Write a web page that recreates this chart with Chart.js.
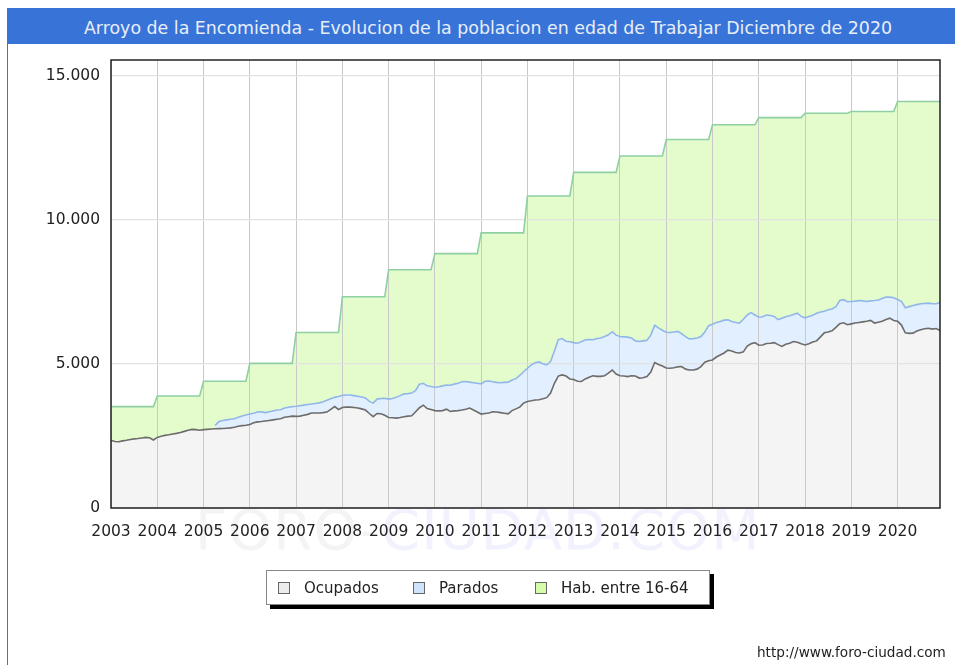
<!DOCTYPE html>
<html>
<head>
<meta charset="utf-8">
<script src="https://cdn.jsdelivr.net/npm/chart.js@4.4.1/dist/chart.umd.min.js"></script>
<style>
  html, body { margin: 0; padding: 0; background: #fff; }
  body { width: 955px; height: 665px; position: relative; overflow: hidden; font-family: "DejaVu Sans", sans-serif; }
  #titleBar {
    position: absolute; left: 7px; top: 8px; width: 948px; height: 36px; box-sizing: border-box; padding-left: 14px;
    background: #3874d8; color: #e8eef9; font-size: 17.4px; line-height: 40px; text-align: center; overflow: hidden; white-space: nowrap;
  }
  #sideLine { position: absolute; left: 7px; top: 44px; width: 1px; height: 621px; background: #3874d8; }
  #watermark {
    position: absolute; left: 195px; top: 497px; font-size: 56px; letter-spacing: 1px; white-space: nowrap; z-index: 0;
  }
  #watermark .a { color: #f4f4f4; }
  #watermark .b { color: #f1f2fd; }
  #chartWrap { position: absolute; left: 0; top: 0; width: 955px; height: 665px; z-index: 1; }
  #legendBox {
    position: absolute; left: 266px; top: 570px; width: 442px; height: 33px; z-index: 2;
    background: #fff; border: 1px solid #888; box-shadow: 4px 4px 0 #000;
    font-size: 15px; color: #222; line-height: 34px; white-space: nowrap;
  }
  .item { position: absolute; top: 0; }
  .sw { display: inline-block; width: 10px; height: 10px; border: 1px solid #666; vertical-align: -1px; margin-right: 14px; }
  #footer { position: absolute; left: 757px; top: 644px; font-size: 13.6px; color: #222; z-index: 2; }
</style>
</head>
<body>
<div id="titleBar">Arroyo de la Encomienda - Evolucion de la poblacion en edad de Trabajar Diciembre de 2020</div>
<div id="sideLine"></div>
<div id="watermark"><span class="a">FORO-</span><span class="b">CIUDAD.COM</span></div>
<div id="chartWrap"><canvas id="chart" width="955" height="665"></canvas></div>
<div id="legendBox">
  <span class="item" style="left:11px"><span class="sw" style="background:#ececec"></span>Ocupados</span>
  <span class="item" style="left:146px"><span class="sw" style="background:#cfe4fa"></span>Parados</span>
  <span class="item" style="left:268px"><span class="sw" style="background:#d6fbab"></span>Hab. entre 16-64</span>
</div>
<div id="footer">http://www.foro-ciudad.com</div>
<script>
const YEARS = ["2003", "2004", "2005", "2006", "2007", "2008", "2009", "2010", "2011",
  "2012", "2013", "2014", "2015", "2016", "2017", "2018", "2019", "2020"];

const Y_TICKS = [0, 5000, 10000, 15000];

// Hab. entre 16-64, one value per year (step series)
const HAB_16_64 = [3520, 3890, 4400, 5020, 6090, 7330, 8270, 8830, 9550,
  10830, 11650, 12220, 12790, 13300, 13550, 13700, 13760, 14110];

// monthly, Jan 2003 .. Dec 2020
const OCUPADOS = [
  2350, 2310, 2300, 2330, 2350, 2380, 2400, 2410, 2430, 2450, 2440, 2360, // 2003
  2450, 2490, 2520, 2540, 2570, 2590, 2620, 2660, 2700, 2730, 2720, 2700, // 2004
  2720, 2730, 2740, 2750, 2755, 2760, 2770, 2780, 2800, 2840, 2860, 2870, // 2005
  2900, 2960, 2990, 3000, 3020, 3040, 3060, 3080, 3100, 3150, 3170, 3190, // 2006
  3180, 3190, 3220, 3250, 3300, 3300, 3300, 3310, 3330, 3420, 3520, 3420, // 2007
  3490, 3500, 3500, 3490, 3470, 3440, 3400, 3280, 3170, 3280, 3270, 3220, // 2008
  3140, 3130, 3120, 3140, 3170, 3190, 3200, 3340, 3480, 3570, 3450, 3420, // 2009
  3380, 3370, 3380, 3430, 3350, 3370, 3380, 3400, 3430, 3470, 3400, 3330, // 2010
  3260, 3280, 3300, 3340, 3330, 3310, 3290, 3270, 3380, 3440, 3500, 3640, // 2011
  3700, 3720, 3750, 3760, 3790, 3830, 3990, 4330, 4580, 4620, 4580, 4480, // 2012
  4460, 4400, 4390, 4480, 4540, 4590, 4570, 4570, 4590, 4680, 4790, 4650, // 2013
  4590, 4580, 4560, 4590, 4580, 4510, 4520, 4560, 4720, 5050, 4980, 4930, // 2014
  4860, 4850, 4870, 4900, 4910, 4820, 4790, 4790, 4820, 4910, 5060, 5110, // 2015
  5140, 5240, 5310, 5380, 5480, 5450, 5400, 5380, 5420, 5620, 5700, 5740, // 2016
  5650, 5660, 5710, 5720, 5740, 5670, 5610, 5680, 5720, 5780, 5750, 5700, // 2017
  5660, 5700, 5760, 5800, 5940, 6080, 6110, 6150, 6270, 6400, 6430, 6360, // 2018
  6390, 6420, 6440, 6460, 6480, 6510, 6420, 6450, 6480, 6540, 6590, 6510, // 2019
  6480, 6350, 6080, 6060, 6070, 6140, 6190, 6220, 6240, 6210, 6230, 6160  // 2020
];

const PARADOS = [
  null, null, null, null, null, null, null, null, null, null, null, null, // 2003
  null, null, null, null, null, null, null, null, null, null, null, null, // 2004
  null, null, null, 120, 245, 280, 290, 300, 300, 310, 330, 360,         // 2005
  360, 330, 340, 340, 290, 300, 310, 320, 310, 320, 330, 330,             // 2006
  350, 360, 350, 340, 310, 330, 350, 380, 410, 370, 320, 450,             // 2007
  420, 420, 420, 410, 410, 410, 420, 420, 470, 500, 530, 590,             // 2008
  640, 670, 720, 760, 790, 780, 790, 740, 820, 760, 790, 800,             // 2009
  810, 840, 860, 840, 910, 930, 950, 980, 960, 900, 950, 1000,            // 2010
  1050, 1120, 1110, 1040, 1030, 1040, 1070, 1100, 1060, 1050, 1100, 1090, // 2011
  1150, 1250, 1290, 1310, 1220, 1140, 1090, 1120, 1260, 1260, 1210, 1290, // 2012
  1280, 1320, 1380, 1360, 1310, 1250, 1310, 1330, 1360, 1330, 1330, 1350, // 2013
  1360, 1360, 1370, 1310, 1220, 1270, 1280, 1260, 1280, 1290, 1270, 1240, // 2014
  1240, 1240, 1240, 1230, 1140, 1130, 1080, 1090, 1080, 1040, 1050, 1220, // 2015
  1240, 1200, 1160, 1140, 1050, 1020, 1040, 1040, 1130, 1080, 1080, 960,  // 2016
  970, 980, 990, 960, 910, 870, 980, 960, 950, 940, 1010, 950,            // 2017
  940, 950, 930, 960, 860, 750, 770, 760, 720, 800, 800, 800,             // 2018
  780, 760, 760, 730, 690, 680, 780, 770, 790, 780, 730, 790,             // 2019
  760, 820, 870, 930, 960, 920, 900, 880, 870, 880, 860, 970              // 2020
];

const FONT = '"DejaVu Sans", sans-serif';

function fmtMiles(value) {
  return String(value).replace(/\B(?=(\d{3})+(?!\d))/g, ".");
}

const labels = [];
const habMonthly = [];
YEARS.forEach((year, yi) => {
  for (let m = 0; m < 12; m++) {
    labels.push(`${year}-${m + 1}`);
    habMonthly.push(HAB_16_64[yi]);
  }
});

// parados is drawn stacked on top of ocupados
const paradosTop = OCUPADOS.map((v, i) => (PARADOS[i] == null ? null : v + PARADOS[i]));

const frame = {
  id: "frame",
  afterDraw(chart) {
    const { ctx, chartArea: a } = chart;
    ctx.save();
    ctx.strokeStyle = "#222";
    ctx.lineWidth = 1.5;
    ctx.strokeRect(a.left, a.top, a.right - a.left, a.bottom - a.top);
    ctx.restore();
  }
};

new Chart(document.getElementById("chart"), {
  type: "line",
  data: {
    labels,
    datasets: [
      {
        label: "Ocupados",
        data: OCUPADOS,
        borderColor: "#6c6c6c",
        backgroundColor: "#f4f4f4",
        borderWidth: 1.6,
        fill: "origin"
      },
      {
        label: "Parados",
        data: paradosTop,
        borderColor: "#91b7ea",
        backgroundColor: "#e2effe",
        borderWidth: 1.6,
        fill: "origin"
      },
      {
        label: "Hab. entre 16-64",
        data: habMonthly,
        borderColor: "#8fd0a2",
        backgroundColor: "#e4fccc",
        borderWidth: 1.6,
        fill: "origin"
      }
    ]
  },
  options: {
    responsive: false,
    animation: false,
    events: [],
    elements: { point: { radius: 0 }, line: { tension: 0 } },
    layout: { autoPadding: false, padding: { left: 0, right: 15, top: 60, bottom: 117 } },
    plugins: {
      legend: { display: false },
      title: { display: false },
      tooltip: { enabled: false },
      filler: { drawTime: "beforeDraw" }
    },
    scales: {
      x: {
        type: "category",
        offset: false,
        afterFit: (scale) => { scale.height = 40; },
        border: { display: false },
        grid: { drawTicks: false, lineWidth: 1, color: "#c9c9c9" },
        ticks: {
          autoSkip: false,
          maxRotation: 0,
          padding: 15,
          color: "#222",
          font: { family: FONT, size: 15.5 },
          // null hides both the label and its grid line: only January keeps one
          callback: (value, index) => (index % 12 === 0 ? YEARS[index / 12] : null)
        }
      },
      y: {
        min: 0,
        max: 15550,
        afterFit: (scale) => { scale.width = 111; },
        afterBuildTicks: (scale) => { scale.ticks = Y_TICKS.map((v) => ({ value: v })); },
        border: { display: false },
        grid: { drawTicks: false, color: "#e2e2e2", lineWidth: 1.2 },
        ticks: {
          padding: 11,
          color: "#222",
          font: { family: FONT, size: 15.5 },
          callback: (value) => fmtMiles(value)
        }
      }
    }
  },
  plugins: [frame]
});
</script>
</body>
</html>
